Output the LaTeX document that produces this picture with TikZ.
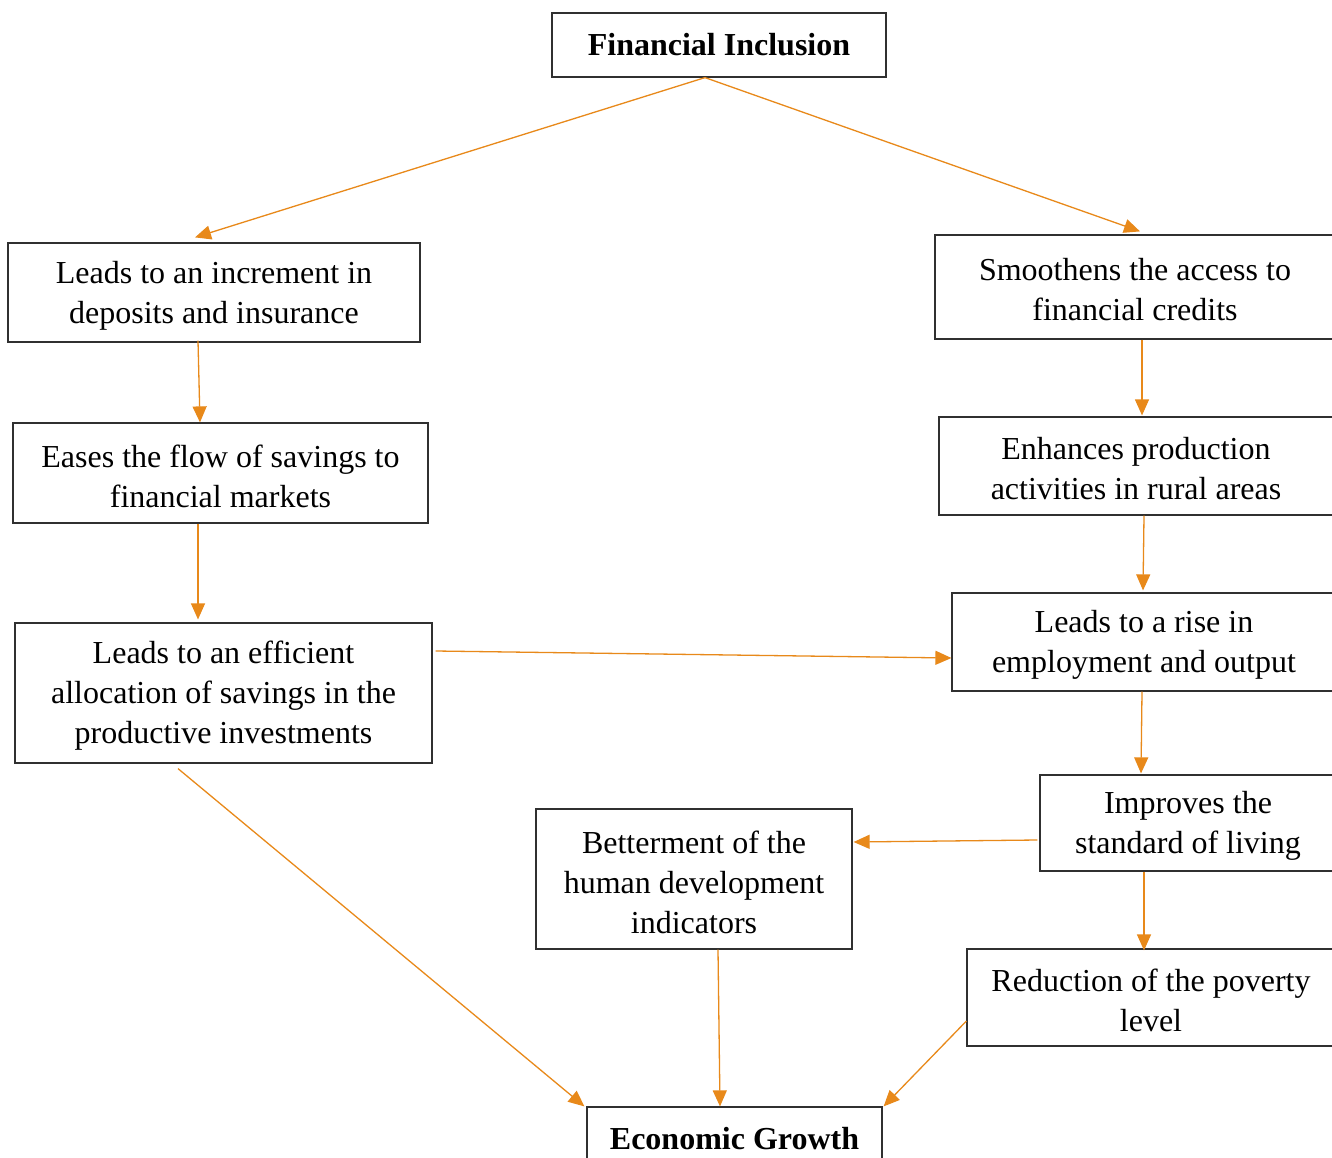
\documentclass[tikz,border=0pt]{standalone}
\usepackage{fontspec}
\setmainfont{Liberation Serif}
\usetikzlibrary{arrows.meta}
\definecolor{arr}{HTML}{E8891A}
\definecolor{edge}{HTML}{303030}
\tikzset{
  frame/.style={draw=edge, line width=1.2pt, align=center, inner sep=0pt, anchor=center},
  box/.style={frame, label={[align=center, inner sep=0pt, font=\fontsize{32}{40}\selectfont, yshift=-3pt]center:#1}},
  title/.style={frame, font=\fontsize{32}{40}\selectfont\bfseries},
  link/.style={draw=arr, line width=1.3pt, -{Triangle[length=16pt,width=14pt]}}
}
\begin{document}
\begin{tikzpicture}[x=1pt,y=-1pt]
\useasboundingbox (0,0) rectangle (1332,1158);
\clip (0,0) rectangle (1332,1158);
\fill[white] (0,0) rectangle (1332,1158);
\node[title, minimum width=334pt, minimum height=64pt] (fi) at (719,45) {Financial Inclusion};
\node[box={Leads to an increment in\\deposits and insurance}, minimum width=412pt, minimum height=99pt] (b2) at (214,292.5) {};
\node[box={Smoothens the access to\\financial credits}, minimum width=400pt, minimum height=104pt] (b3) at (1135,287) {};
\node[box={Eases the flow of savings to\\financial markets}, minimum width=415pt, minimum height=100pt] (b4) at (220.5,473) {};
\node[box={Enhances production\\activities in rural areas}, minimum width=394pt, minimum height=98pt] (b5) at (1136,466) {};
\node[box={Leads to an efficient\\allocation of savings in the\\productive investments}, minimum width=417pt, minimum height=140pt] (b6) at (223.5,693) {};
\node[box={Leads to a rise in\\employment and output}, minimum width=384pt, minimum height=98pt] (b7) at (1144,642) {};
\node[box={Improves the\\standard of living}, minimum width=296pt, minimum height=96pt] (b8) at (1188,823) {};
\node[box={Betterment of the\\human development\\indicators}, minimum width=316pt, minimum height=140pt] (b9) at (694,879) {};
\node[box={Reduction of the poverty\\level}, minimum width=368pt, minimum height=97pt] (b10) at (1151,997.5) {};
\node[title, minimum width=295pt, minimum height=64pt] (b11) at (734.5,1139) {Economic Growth};

\draw[link] ([xshift=-14pt]fi.south) -- ([xshift=-19pt,yshift=5pt]b2.north);
\draw[link] ([xshift=-14pt]fi.south) -- ([xshift=5pt,yshift=3pt]b3.north);
\draw[link] ([xshift=-16pt,yshift=2pt]b2.south) -- ([xshift=-20.5pt]b4.north);
\draw[link] ([xshift=7pt]b3.south) -- ([xshift=6pt,yshift=1pt]b5.north);
\draw[link] ([xshift=-22.5pt]b4.south) -- ([xshift=-25.5pt,yshift=3pt]b6.north);
\draw[link] ([xshift=8pt]b5.south) -- ([xshift=-1pt,yshift=2pt]b7.north);
\draw[link] ([xshift=3pt,yshift=42pt]b6.east) -- ([yshift=-16pt]b7.west);
\draw[link] ([xshift=-2pt]b7.south) -- ([xshift=-47pt,yshift=1pt]b8.north);
\draw[link] ([xshift=-2pt,yshift=-17pt]b8.west) -- ([xshift=1pt,yshift=37pt]b9.east);
\draw[link] ([xshift=-44pt]b8.south) -- ([xshift=-7pt,yshift=-2pt]b10.north);
\draw[link] ([xshift=-45.5pt,yshift=-5pt]b6.south) -- ([xshift=-2pt]b11.north west);
\draw[link] ([xshift=24pt]b9.south) -- ([xshift=-14.5pt]b11.north);
\draw[link] ([yshift=-23.5pt]b10.west) -- ([xshift=1pt]b11.north east);
\end{tikzpicture}
\end{document}
